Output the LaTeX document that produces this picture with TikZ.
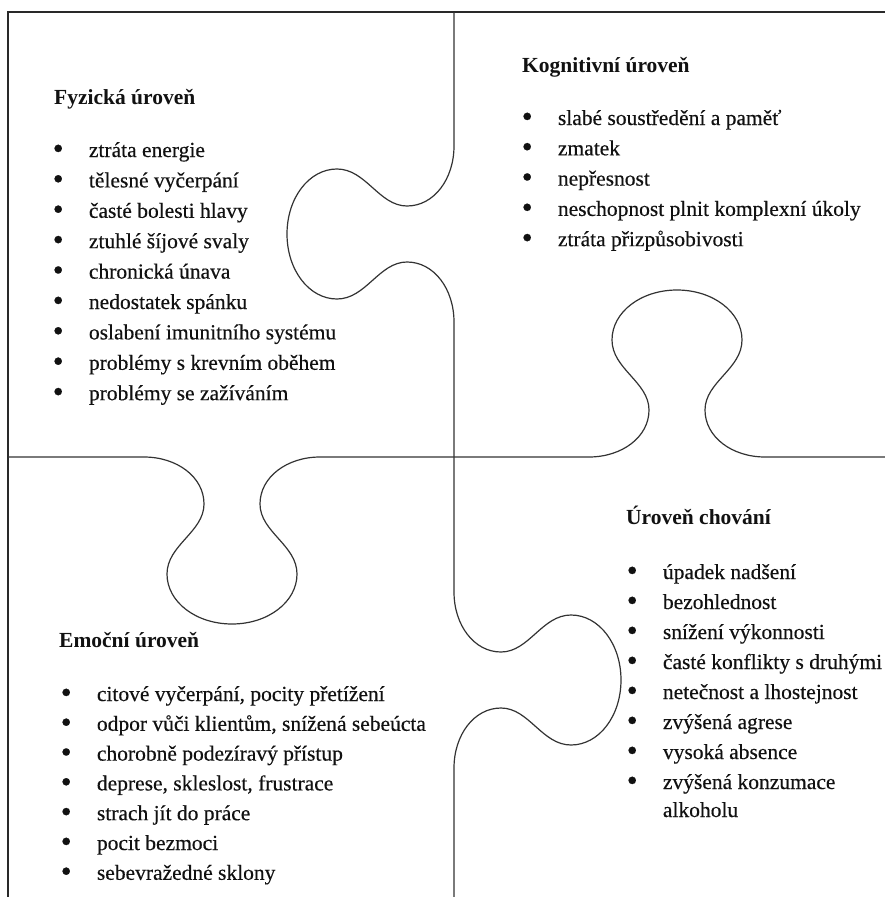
\documentclass[tikz,border=0pt]{standalone}
\usepackage{fontspec}
\usepackage{graphicx}
\setmainfont{Liberation Serif}[UprightFeatures={FakeBold=0.35}]
\definecolor{txt}{HTML}{111111}
\definecolor{ln}{HTML}{333333}
\newcommand{\bl}{\makebox[36.2pt][l]{\raisebox{-1.7pt}{\scalebox{1.45}{•}}}}
\tikzset{
  item/.style={anchor=base west, inner sep=0pt, text=txt, font=\fontsize{21.5}{26}\selectfont},
  head/.style={item, font=\fontsize{21.5}{26}\selectfont\bfseries},
  cut/.style={draw=ln, line width=1.2pt, line join=round},
  frame/.style={draw=ln!80!black, line width=1.8pt}
}
\begin{document}
\begin{tikzpicture}[x=1pt,y=-1pt]
\useasboundingbox (0,0) rectangle (885,897);
% frame
\draw[frame] (8,897) -- (8,12) -- (885,12);
% horizontal cut line with two tabs
\draw[cut] (8,457) -- (144,457)
  .. controls (177,457) and (204,477) .. (204,504)
  .. controls (204,532) and (167,545) .. (167,574)
  .. controls (167,602) and (196,624) .. (232,624)
  .. controls (268,624) and (297,602) .. (297,574)
  .. controls (297,545) and (260,532) .. (260,504)
  .. controls (260,477) and (287,457) .. (320,457)
  -- (589,457)
  .. controls (622,457) and (649,437) .. (649,410)
  .. controls (649,382) and (612,369) .. (612,340)
  .. controls (612,312) and (641,290) .. (677,290)
  .. controls (713,290) and (742,312) .. (742,340)
  .. controls (742,369) and (705,382) .. (705,410)
  .. controls (705,437) and (732,457) .. (765,457)
  -- (885,457);
% vertical cut line with two tabs
\draw[cut] (454,12) -- (454,146)
  .. controls (454,179) and (434,206) .. (407,206)
  .. controls (379,206) and (366,169) .. (337,169)
  .. controls (309,169) and (287,198) .. (287,234)
  .. controls (287,270) and (309,299) .. (337,299)
  .. controls (366,299) and (379,262) .. (407,262)
  .. controls (434,262) and (454,289) .. (454,322)
  -- (454,592)
  .. controls (454,625) and (474,652) .. (501,652)
  .. controls (529,652) and (542,615) .. (571,615)
  .. controls (599,615) and (621,644) .. (621,680)
  .. controls (621,716) and (599,745) .. (571,745)
  .. controls (542,745) and (529,708) .. (501,708)
  .. controls (474,708) and (454,735) .. (454,768)
  -- (454,897);
% Fyzická úroveň
\node[head] (fh) at (54,104) {Fyzická úroveň};
\node[item] (f1) at (52.55,157) {\bl ztráta energie};
\node[item] (f2) at (52.55,187.4) {\bl tělesné vyčerpání};
\node[item] (f3) at (52.55,217.8) {\bl časté bolesti hlavy};
\node[item] (f4) at (52.55,248.2) {\bl ztuhlé šíjové svaly};
\node[item] (f5) at (52.55,278.6) {\bl chronická únava};
\node[item] (f6) at (52.55,309) {\bl nedostatek spánku};
\node[item] (f7) at (52.55,339.4) {\bl oslabení imunitního systému};
\node[item] (f8) at (52.55,369.8) {\bl problémy s krevním oběhem};
\node[item] (f9) at (52.55,400.2) {\bl problémy se zažíváním};
% Kognitivní úroveň
\node[head] (kh) at (522,72) {Kognitivní úroveň};
\node[item] (k1) at (521.55,125) {\bl slabé soustředění a paměť};
\node[item] (k2) at (521.55,155.3) {\bl zmatek};
\node[item] (k3) at (521.55,185.6) {\bl nepřesnost};
\node[item] (k4) at (521.55,215.9) {\bl neschopnost plnit komplexní úkoly};
\node[item] (k5) at (521.55,246.2) {\bl ztráta přizpůsobivosti};
% Emoční úroveň
\node[head] (eh) at (59,647) {Emoční úroveň};
\node[item] (e1) at (60.55,701) {\bl citové vyčerpání, pocity přetížení};
\node[item] (e2) at (60.55,730.8) {\bl odpor vůči klientům, snížená sebeúcta};
\node[item] (e3) at (60.55,760.6) {\bl chorobně podezíravý přístup};
\node[item] (e4) at (60.55,790.4) {\bl deprese, skleslost, frustrace};
\node[item] (e5) at (60.55,820.2) {\bl strach jít do práce};
\node[item] (e6) at (60.55,850) {\bl pocit bezmoci};
\node[item] (e7) at (60.55,879.8) {\bl sebevražedné sklony};
% Úroveň chování
\node[head] (ch) at (626,524) {Úroveň chování};
\node[item] (c1) at (626.55,579) {\bl úpadek nadšení};
\node[item] (c2) at (626.55,609) {\bl bezohlednost};
\node[item] (c3) at (626.55,639) {\bl snížení výkonnosti};
\node[item] (c4) at (626.55,669) {\bl časté konflikty s druhými};
\node[item] (c5) at (626.55,699) {\bl netečnost a lhostejnost};
\node[item] (c6) at (626.55,729) {\bl zvýšená agrese};
\node[item] (c7) at (626.55,759) {\bl vysoká absence};
\node[item] (c8) at (626.55,789) {\bl zvýšená konzumace};
\node[item] (c9) at (662.75,817) {alkoholu};
\end{tikzpicture}
\end{document}
